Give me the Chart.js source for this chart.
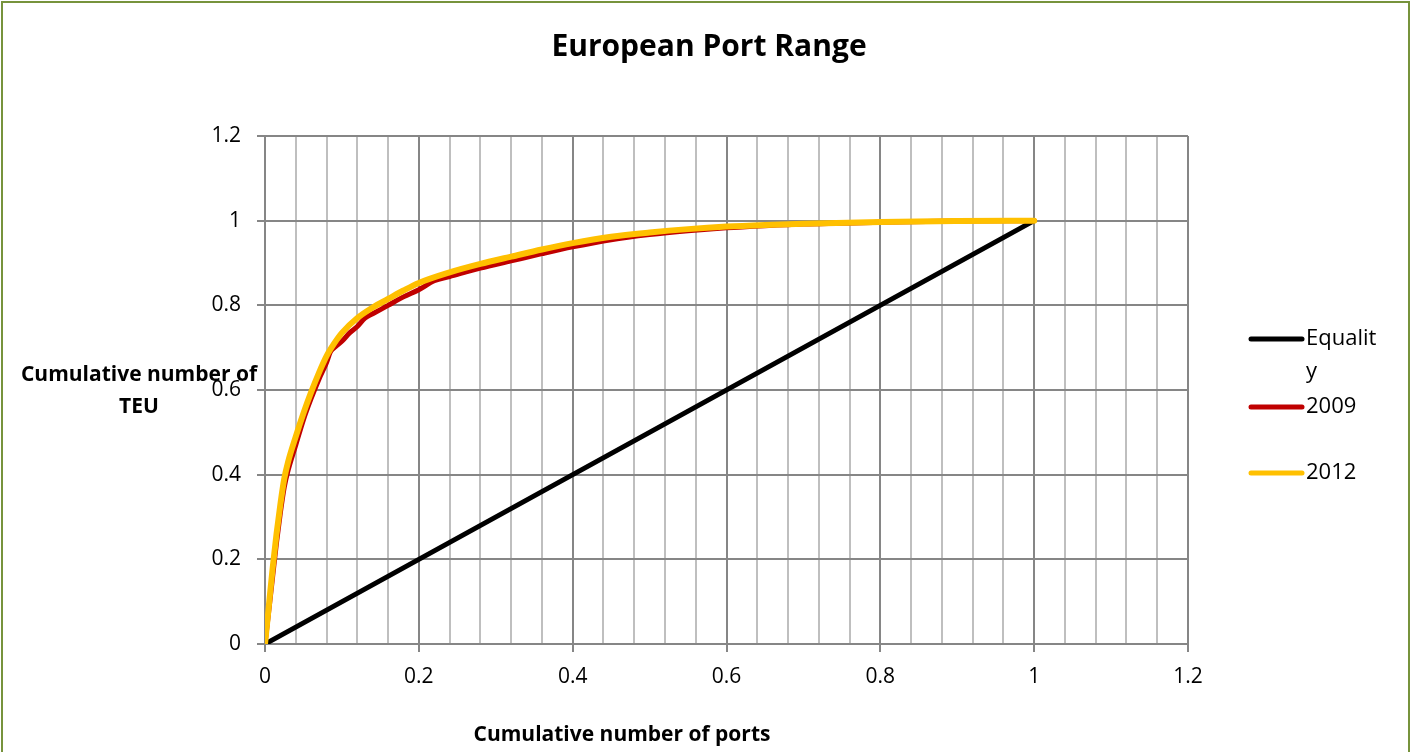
<!DOCTYPE html>
<html>
<head>
<meta charset="utf-8">
<title>European Port Range</title>
<script src="https://cdn.jsdelivr.net/npm/chart.js@4.4.1/dist/chart.umd.min.js"></script>
<style>
  html, body { margin: 0; padding: 0; background: #ffffff; }
  #wrap { position: relative; width: 1412px; height: 752px; }
</style>
</head>
<body>
<div id="wrap"><canvas id="c" width="1412" height="752"></canvas></div>
<script>
// Lorenz-type cumulative shares: share of ports (x) vs share of TEU (y)
const seriesNames = ['Equality', '2009', '2012'];

const equalityX = [0, 1];
const equalityY = [0, 1];

const x2009 = [0, 0.005, 0.01, 0.015, 0.02, 0.025, 0.03, 0.04, 0.05, 0.06, 0.07, 0.08, 0.085, 0.09, 0.10,
               0.11, 0.12, 0.13, 0.14, 0.16, 0.18, 0.20, 0.22, 0.24, 0.28, 0.32, 0.36, 0.40, 0.45, 0.50,
               0.55, 0.60, 0.65, 0.70, 0.80, 0.90, 1.0];
const y2009 = [0, 0.08, 0.16, 0.24, 0.31, 0.37, 0.41, 0.47, 0.53, 0.58, 0.625, 0.665, 0.69, 0.70, 0.715,
               0.735, 0.75, 0.77, 0.78, 0.80, 0.82, 0.837, 0.858, 0.868, 0.888, 0.905, 0.922, 0.938, 0.955, 0.967,
               0.976, 0.983, 0.988, 0.992, 0.996, 0.999, 1.0];

const x2012 = [0, 0.005, 0.01, 0.015, 0.02, 0.025, 0.03, 0.04, 0.05, 0.06, 0.07, 0.08, 0.09, 0.10,
               0.12, 0.14, 0.16, 0.18, 0.20, 0.24, 0.28, 0.32, 0.36, 0.40, 0.45, 0.50,
               0.55, 0.60, 0.65, 0.70, 0.80, 0.90, 1.0];
const y2012 = [0, 0.09, 0.18, 0.26, 0.33, 0.39, 0.43, 0.49, 0.545, 0.595, 0.64, 0.68, 0.71, 0.735,
               0.77, 0.795, 0.815, 0.835, 0.853, 0.878, 0.898, 0.915, 0.932, 0.947, 0.962, 0.972,
               0.98, 0.986, 0.99, 0.993, 0.997, 0.999, 1.0];

const axisTicks = [0, 0.2, 0.4, 0.6, 0.8, 1, 1.2];

const chartTitle = 'European Port Range';
const xTitle = 'Cumulative number of ports';
const yTitleLines = ['Cumulative number of', 'TEU'];

const toPoints = (xs, ys) => xs.map((x, i) => ({ x: x, y: ys[i] }));

const FONT = '"Open Sans", "Noto Sans", sans-serif';

function fmt(v) { return String(Number(v.toFixed(2))); }
function isMajor(v) { return axisTicks.some(t => Math.abs(t - v) < 1e-6); }

// Frame, titles and legend drawn around the plot
const decorations = {
  id: 'decorations',
  beforeDraw(chart) {
    const ctx = chart.ctx;
    ctx.save();
    ctx.fillStyle = '#ffffff';
    ctx.fillRect(0, 0, chart.width, chart.height);
    ctx.restore();
  },
  afterDraw(chart) {
    const ctx = chart.ctx;
    ctx.save();
    // outer frame
    ctx.strokeStyle = '#77933c';
    ctx.lineWidth = 2;
    ctx.strokeRect(2, 2, 1407, 770);

    ctx.fillStyle = '#000000';
    ctx.textAlign = 'center';
    ctx.textBaseline = 'middle';
    ctx.font = 'bold 30px ' + FONT;
    ctx.fillText(chartTitle, 709, 47);

    ctx.font = 'bold 21px ' + FONT;
    ctx.fillText(xTitle, 622, 735);
    ctx.fillText(yTitleLines[0], 139, 375);
    ctx.fillText(yTitleLines[1], 139, 407);

    // legend
    const rows = [
      { ds: 0, y: 339, lines: ['Equalit', 'y'] },
      { ds: 1, y: 407, lines: ['2009'] },
      { ds: 2, y: 473, lines: ['2012'] }
    ];
    ctx.font = '22px ' + FONT;
    ctx.textAlign = 'left';
    rows.forEach(r => {
      const ds = chart.data.datasets[r.ds];
      ctx.strokeStyle = ds.borderColor;
      ctx.lineWidth = 5;
      ctx.lineCap = 'round';
      ctx.beginPath();
      ctx.moveTo(1251, r.y);
      ctx.lineTo(1302, r.y);
      ctx.stroke();
      r.lines.forEach((t, i) => ctx.fillText(t, 1306, r.y + i * 33));
    });
    ctx.restore();
  }
};

new Chart(document.getElementById('c'), {
  type: 'scatter',
  data: {
    datasets: [
      { label: seriesNames[0], data: toPoints(equalityX, equalityY), borderColor: '#000000', borderWidth: 5, order: 3 },
      { label: seriesNames[1], data: toPoints(x2009, y2009), borderColor: '#c00000', borderWidth: 5, order: 2 },
      { label: seriesNames[2], data: toPoints(x2012, y2012), borderColor: '#ffc000', borderWidth: 6, order: 1 }
    ].map(d => Object.assign(d, {
      showLine: true, pointRadius: 0, pointHoverRadius: 0, cubicInterpolationMode: 'monotone',
      borderCapStyle: 'round', borderJoinStyle: 'round', backgroundColor: d.borderColor
    }))
  },
  options: {
    responsive: false,
    animation: false,
    events: [],
    layout: { padding: { left: 0, top: 136, right: 224, bottom: 0 } },
    plugins: { legend: { display: false }, title: { display: false }, tooltip: { enabled: false } },
    scales: {
      x: {
        type: 'linear', min: 0, max: 1.2,
        afterFit(s) { s.height = 108; },
        ticks: {
          stepSize: 0.04, autoSkip: false, maxRotation: 0, padding: 12,
          color: '#000000', font: { family: FONT, size: 21 },
          callback: v => isMajor(v) ? fmt(v) : ''
        },
        grid: {
          color: ctx => isMajor(ctx.tick.value) ? '#868686' : '#bfbfbf',
          lineWidth: 2,
          tickLength: 8,
          tickColor: ctx => isMajor(ctx.tick.value) ? '#868686' : 'rgba(0,0,0,0)'
        },
        border: { color: '#868686', width: 2 }
      },
      y: {
        type: 'linear', min: 0, max: 1.2,
        afterFit(s) { s.width = 265; },
        ticks: {
          stepSize: 0.2, padding: 16,
          color: '#000000', font: { family: FONT, size: 21 },
          callback: v => fmt(v)
        },
        grid: { color: '#868686', lineWidth: 2, tickLength: 8, tickColor: '#868686' },
        border: { color: '#868686', width: 2 }
      }
    }
  },
  plugins: [decorations]
});
</script>
</body>
</html>
